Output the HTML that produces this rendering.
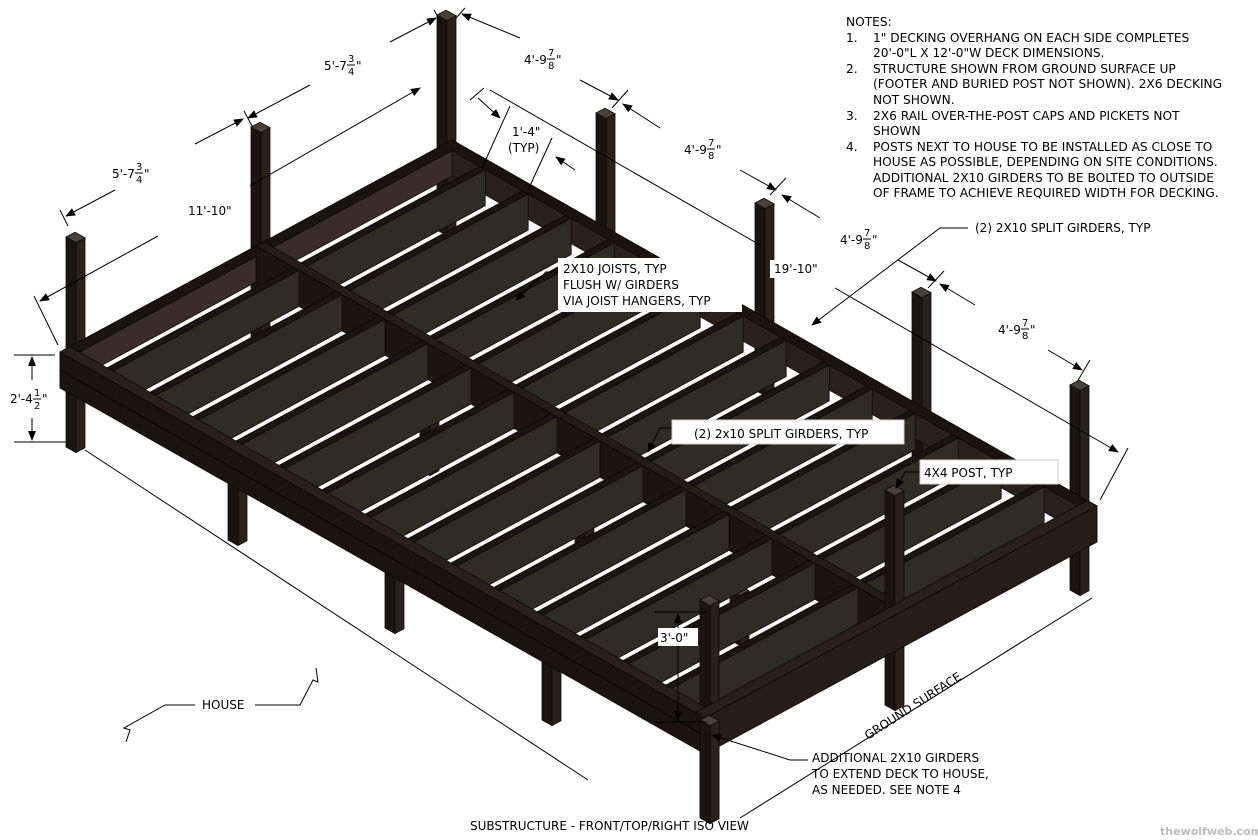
<!DOCTYPE html>
<html><head><meta charset="utf-8"><style>
html,body{margin:0;padding:0;background:#fff;width:1258px;height:840px;overflow:hidden}
svg{display:block}
text{font-family:"DejaVu Sans","Liberation Sans",sans-serif;fill:#000}
</style></head><body>
<svg id="s" width="1258" height="840" viewBox="0 0 1258 840" xmlns="http://www.w3.org/2000/svg">
<defs>
<marker id="ar" markerWidth="10" markerHeight="8" refX="9" refY="4" orient="auto" markerUnits="userSpaceOnUse"><path d="M0,0 L10,4 L0,8 z" fill="#000"/></marker>
</defs>
<g id="frame"></g>
<g id="ann" stroke="#000" stroke-width="1" fill="none">
<line x1="310" y1="85" x2="248" y2="118" marker-end="url(#ar)"/>
<line x1="390" y1="42" x2="436" y2="18" marker-end="url(#ar)"/>
<line x1="244" y1="111" x2="252" y2="126"/><line x1="434" y1="10" x2="442" y2="24"/>
<line x1="115" y1="190" x2="66" y2="216" marker-end="url(#ar)"/>
<line x1="195" y1="144" x2="243" y2="119" marker-end="url(#ar)"/>
<line x1="60" y1="210" x2="68" y2="226"/>
<line x1="158" y1="236" x2="40" y2="301" marker-end="url(#ar)"/>
<line x1="250" y1="186" x2="420" y2="88" marker-end="url(#ar)"/>
<line x1="34" y1="296" x2="58" y2="345"/>
<line x1="520" y1="38" x2="462" y2="14" marker-end="url(#ar)"/>
<line x1="580" y1="80" x2="618" y2="100" marker-end="url(#ar)"/>
<line x1="456" y1="18" x2="465" y2="8"/>
<line x1="612" y1="108" x2="628" y2="90"/>
<line x1="660" y1="128" x2="623" y2="104" marker-end="url(#ar)"/>
<line x1="740" y1="170" x2="776" y2="190" marker-end="url(#ar)"/>
<line x1="770" y1="195" x2="786" y2="178"/>
<line x1="820" y1="218" x2="782" y2="195" marker-end="url(#ar)"/>
<line x1="898" y1="260" x2="936" y2="281" marker-end="url(#ar)"/>
<line x1="928" y1="288" x2="944" y2="271"/>
<line x1="975" y1="305" x2="940" y2="284" marker-end="url(#ar)"/>
<line x1="1048" y1="350" x2="1082" y2="370" marker-end="url(#ar)"/>
<line x1="1077" y1="382" x2="1090" y2="360"/>
<line x1="478" y1="98" x2="500" y2="118" marker-end="url(#ar)"/>
<line x1="575" y1="170" x2="556" y2="157" marker-end="url(#ar)"/>
<line x1="510" y1="106" x2="482" y2="168"/>
<line x1="552" y1="138" x2="528" y2="190"/>
<line x1="490" y1="90" x2="760" y2="245"/>
<line x1="835" y1="288" x2="1118" y2="452" marker-end="url(#ar)"/>
<line x1="1128" y1="448" x2="1100" y2="500"/>
<line x1="484" y1="88" x2="470" y2="100"/>
<line x1="14" y1="355" x2="55" y2="355"/><line x1="14" y1="442" x2="66" y2="442"/>
<line x1="32" y1="380" x2="32" y2="357" marker-end="url(#ar)"/>
<line x1="32" y1="418" x2="32" y2="440" marker-end="url(#ar)"/>
<line x1="655" y1="612" x2="706" y2="612"/><line x1="655" y1="722" x2="706" y2="722"/>
<line x1="678" y1="630" x2="678" y2="614" marker-end="url(#ar)"/>
<line x1="678" y1="700" x2="678" y2="720" marker-end="url(#ar)"/>
<line x1="678" y1="645" x2="678" y2="700"/>
<line x1="85" y1="450" x2="588" y2="780"/>
<line x1="1092" y1="598" x2="740" y2="818"/>
<polyline points="558,272 546,272 516,300" marker-end="url(#ar)"/>
<polyline points="968,228 940,228 812,325" marker-end="url(#ar)"/>
<polyline points="672,428 660,428 648,452" marker-end="url(#ar)"/>
<polyline points="920,472 905,472 896,488" marker-end="url(#ar)"/>
<polyline points="808,760 790,760 712,735" marker-end="url(#ar)"/>
<polyline points="126,742 130,730 124,728 165,705 195,705"/>
<polyline points="255,705 300,705 313,680 318,682 316,668"/>
</g>
<g id="labels">
<rect x="558" y="258" width="184" height="54" fill="#fff"/>
<text x="563" y="273" font-size="12">2X10 JOISTS, TYP</text>
<text x="563" y="289" font-size="12">FLUSH W/ GIRDERS</text>
<text x="563" y="305" font-size="12">VIA JOIST HANGERS, TYP</text>
<rect x="672" y="420" width="232" height="24" fill="#fff" stroke="#ccc"/>
<text x="694" y="438" font-size="12">(2) 2x10 SPLIT GIRDERS, TYP</text>
<rect x="920" y="460" width="138" height="24" fill="#fff" stroke="#ccc"/>
<text x="924" y="477" font-size="12">4X4 POST, TYP</text>
<text x="975" y="232" font-size="12">(2) 2X10 SPLIT GIRDERS, TYP</text>
<rect x="658" y="628" width="40" height="18" fill="#fff"/>
<text x="660" y="642" font-size="12">3'-0"</text>
<text x="202" y="709" font-size="12">HOUSE</text>
<text x="812" y="762" font-size="12">ADDITIONAL 2X10 GIRDERS</text>
<text x="812" y="778" font-size="12">TO EXTEND DECK TO HOUSE,</text>
<text x="812" y="794" font-size="12">AS NEEDED.  SEE NOTE 4</text>
<text x="470" y="830" font-size="12">SUBSTRUCTURE - FRONT/TOP/RIGHT ISO VIEW</text>
<text x="0" y="0" font-size="12" transform="translate(868,740) rotate(-33)">GROUND SURFACE</text>
<text x="1160" y="835" font-size="11" style="fill:#bbb;font-weight:bold">thewolfweb.com</text>
<g font-size="12">
<text x="324" y="70">5'-7</text><text x="348" y="62" font-size="10">3</text><line x1="347" y1="65" x2="355" y2="65" stroke="#000"/><text x="348" y="75" font-size="10">4</text><text x="356" y="70">"</text>
<text x="112" y="178">5'-7</text><text x="136" y="170" font-size="10">3</text><line x1="135" y1="173" x2="143" y2="173" stroke="#000"/><text x="136" y="183" font-size="10">4</text><text x="144" y="178">"</text>
<rect x="186" y="202" width="46" height="18" fill="#fff"/>
<text x="188" y="215">11'-10"</text>
<text x="524" y="64">4'-9</text><text x="548" y="56" font-size="10">7</text><line x1="547" y1="59" x2="555" y2="59" stroke="#000"/><text x="548" y="69" font-size="10">8</text><text x="556" y="64">"</text>
<text x="684" y="154">4'-9</text><text x="708" y="146" font-size="10">7</text><line x1="707" y1="149" x2="715" y2="149" stroke="#000"/><text x="708" y="159" font-size="10">8</text><text x="716" y="154">"</text>
<text x="840" y="244">4'-9</text><text x="864" y="236" font-size="10">7</text><line x1="863" y1="239" x2="871" y2="239" stroke="#000"/><text x="864" y="249" font-size="10">8</text><text x="872" y="244">"</text>
<text x="998" y="334">4'-9</text><text x="1022" y="326" font-size="10">7</text><line x1="1021" y1="329" x2="1029" y2="329" stroke="#000"/><text x="1022" y="339" font-size="10">8</text><text x="1030" y="334">"</text>
<rect x="770" y="260" width="50" height="18" fill="#fff"/>
<text x="774" y="273">19'-10"</text>
<text x="512" y="136">1'-4"</text>
<text x="508" y="152">(TYP)</text>
<rect x="8" y="388" width="50" height="26" fill="#fff"/>
<text x="10" y="403">2'-4</text><text x="34" y="396" font-size="10">1</text><line x1="33" y1="399" x2="41" y2="399" stroke="#000"/><text x="34" y="409" font-size="10">2</text><text x="42" y="403">"</text>
</g>
<g font-size="12.2">
<text x="846" y="26">NOTES:</text>
<text x="846" y="42">1.</text><text x="873" y="42">1" DECKING OVERHANG ON EACH SIDE COMPLETES</text>
<text x="873" y="57">20'-0"L X 12'-0"W DECK DIMENSIONS.</text>
<text x="846" y="73">2.</text><text x="873" y="73">STRUCTURE SHOWN FROM GROUND SURFACE UP</text>
<text x="873" y="88">(FOOTER AND BURIED POST NOT SHOWN). 2X6 DECKING</text>
<text x="873" y="104">NOT SHOWN.</text>
<text x="846" y="120">3.</text><text x="873" y="120">2X6 RAIL OVER-THE-POST CAPS AND PICKETS NOT</text>
<text x="873" y="135">SHOWN</text>
<text x="846" y="151">4.</text><text x="873" y="151">POSTS NEXT TO HOUSE TO BE INSTALLED AS CLOSE TO</text>
<text x="873" y="166">HOUSE AS POSSIBLE, DEPENDING ON SITE CONDITIONS.</text>
<text x="873" y="182">ADDITIONAL 2X10 GIRDERS TO BE BOLTED TO OUTSIDE</text>
<text x="873" y="197">OF FRAME TO ACHIEVE REQUIRED WIDTH FOR DECKING.</text>
</g>
</g>
</svg>
<script>
(function(){
var NS="http://www.w3.org/2000/svg",g=document.getElementById("frame");
var D=36;
function P(a,b,h){return [60+645*a+392*b,352+366*a-212*b+h];}
function poly(pts,fill){var e=document.createElementNS(NS,"polygon");e.setAttribute("points",pts.map(function(p){return p[0].toFixed(1)+","+p[1].toFixed(1)}).join(" "));e.setAttribute("fill",fill);e.setAttribute("stroke","#0d0a09");e.setAttribute("stroke-width","0.8");g.appendChild(e);}
function post(x,t,b){var w=10,d=9;
 poly([[x,t],[x+w,t+5.6],[x+w,b+5.6],[x,b]],"#1c1412");
 poly([[x+w,t+5.6],[x+w+d,t+0.8],[x+w+d,b+0.8],[x+w,b+5.6]],"#2a201c");
 poly([[x,t],[x+d,t-4.8],[x+w+d,t+0.8],[x+w,t+5.6]],"#4a403a");}
[[66,237,447],[251,127,338],[437,15,230],[596,113,300],[755,203,390],[912,292,480],[1070,385,590],[228,470,540],[385,560,628],[542,650,720],[420,420,470],[575,505,560],[730,590,640]].forEach(function(p){post(p[0],p[1],p[2]);});
poly([P(0,0,0),P(0,1,0),P(0,1,D),P(0,0,D)],"#3a2c2c");
poly([P(0,1,0),P(1,1,0),P(1,1,D),P(0,1,D)],"#2a201d");
poly([P(0,1,0),P(1,1,0),P(1,0.975,0),P(0.015,0.975,0)],"#1a1311");
poly([P(0,0,0),P(0,1,0),P(0.015,1,0),P(0.015,0,0)],"#1a1311");
var N=15,w=0.009,i;
function joist(a,b0,b1){poly([P(a-w,b0,0),P(a-w,b1,0),P(a,b1,0),P(a,b0,0)],"#1a1512");
 poly([P(a,b0,0),P(a,b1,0),P(a,b1,D),P(a,b0,D)],"#2f2b25");}
for(i=1;i<N;i++)joist(i/N,0.52,0.975);
poly([P(0,0.5,0),P(1,0.5,0),P(1,0.52,0),P(0,0.52,0)],"#251c19");
poly([P(0,0.5,0),P(1,0.5,0),P(1,0.5,D),P(0,0.5,D)],"#1d1512");
for(i=1;i<N;i++)joist(i/N,0.025,0.5);
post(700,600,818);post(885,490,705);
poly([P(0,0,0),P(1,0,0),P(1,0.025,0),P(0,0.025,0)],"#2a1f1c");
poly([P(0.985,0,0),P(0.985,1,0),P(1,1,0),P(1,0,0)],"#2a1f1c");
poly([P(0,0,0),P(1,0,0),P(1,0,D),P(0,0,D)],"#1b1311");
poly([P(1,0,0),P(1,1,0),P(1,1,D),P(1,0,D)],"#261c19");
var l=document.createElementNS(NS,"line");var a=P(0,0,D/2),b=P(1,0,D/2);
l.setAttribute("x1",a[0]);l.setAttribute("y1",a[1]);l.setAttribute("x2",b[0]);l.setAttribute("y2",b[1]);l.setAttribute("stroke","#0a0706");g.appendChild(l);
post(700,720,818);
})();
</script>
</body></html>
